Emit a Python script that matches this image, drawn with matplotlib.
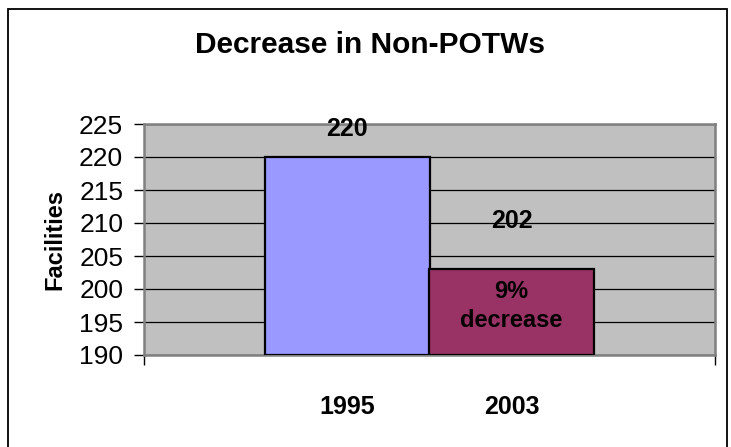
import matplotlib
matplotlib.use('Agg')
import matplotlib.pyplot as plt
from matplotlib.patches import Rectangle

# --- donnees ---
years = ['1995', '2003']
facilities = [220, 203]
bar_labels = ['220', '202']
bar_colors = ['#9999FF', '#993366']
y_ticks = [190, 195, 200, 205, 210, 215, 220, 225]

plt.rcParams['font.family'] = ['Liberation Sans', 'DejaVu Sans']

fig = plt.figure(figsize=(7.31, 4.47), dpi=100)
ax = fig.add_axes([144 / 731, 1 - 355 / 447, (715 - 144) / 731, (355 - 124) / 447])

# cadre exterieur (pas de bord en bas, coupe dans l'original)
fig.patches.append(Rectangle((8 / 731, -0.1), (727 - 8) / 731, 1.1 - 9 / 447,
                             transform=fig.transFigure, fill=False,
                             edgecolor='black', linewidth=1.3))

ax.set_facecolor('#C0C0C0')
x = list(range(len(years)))
ax.bar(x, [v - 190 for v in facilities], bottom=190, width=1.0,
       color=bar_colors, edgecolor='black', linewidth=1.6, zorder=3)

ax.set_xlim(-1.238, 2.238)
ax.set_ylim(190, 225)
ax.set_yticks(y_ticks)
ax.set_yticklabels([str(t) for t in y_ticks], fontsize=19)
ax.yaxis.grid(True, color='black', linewidth=0.9, zorder=1)
ax.set_axisbelow(True)
ax.tick_params(axis='y', length=7, width=1, pad=8, color='black')

# etiquettes des annees, loin sous l'axe
ax.set_xticks(x)
ax.set_xticklabels(years, fontsize=18, fontweight='bold')
ax.tick_params(axis='x', length=0, pad=29)
ax.set_xticks([-1.238, 2.238], minor=True)
ax.tick_params(axis='x', which='minor', length=7, width=1, color='black')

for s in ax.spines.values():
    s.set_color('#808080')
    s.set_linewidth(1.8)

ax.set_ylabel('Facilities', fontsize=17, fontweight='bold', labelpad=9)

# valeurs au-dessus des barres
ax.annotate(bar_labels[0], (x[0], facilities[0]), xytext=(0, 20),
            textcoords='offset points', ha='center', va='center',
            fontsize=18, fontweight='bold')
ax.annotate(bar_labels[1], (x[1], facilities[1]), xytext=(0, 35),
            textcoords='offset points', ha='center', va='center',
            fontsize=18, fontweight='bold')
ax.annotate('9%\ndecrease', (x[1], 197.4), ha='center', va='center',
            fontsize=17, fontweight='bold', linespacing=1.3)

fig.text(370 / 731, 1 - 45 / 447, 'Decrease in Non-POTWs', ha='center', va='center',
         fontsize=21.5, fontweight='bold')

fig.savefig('out.png', dpi=100)
